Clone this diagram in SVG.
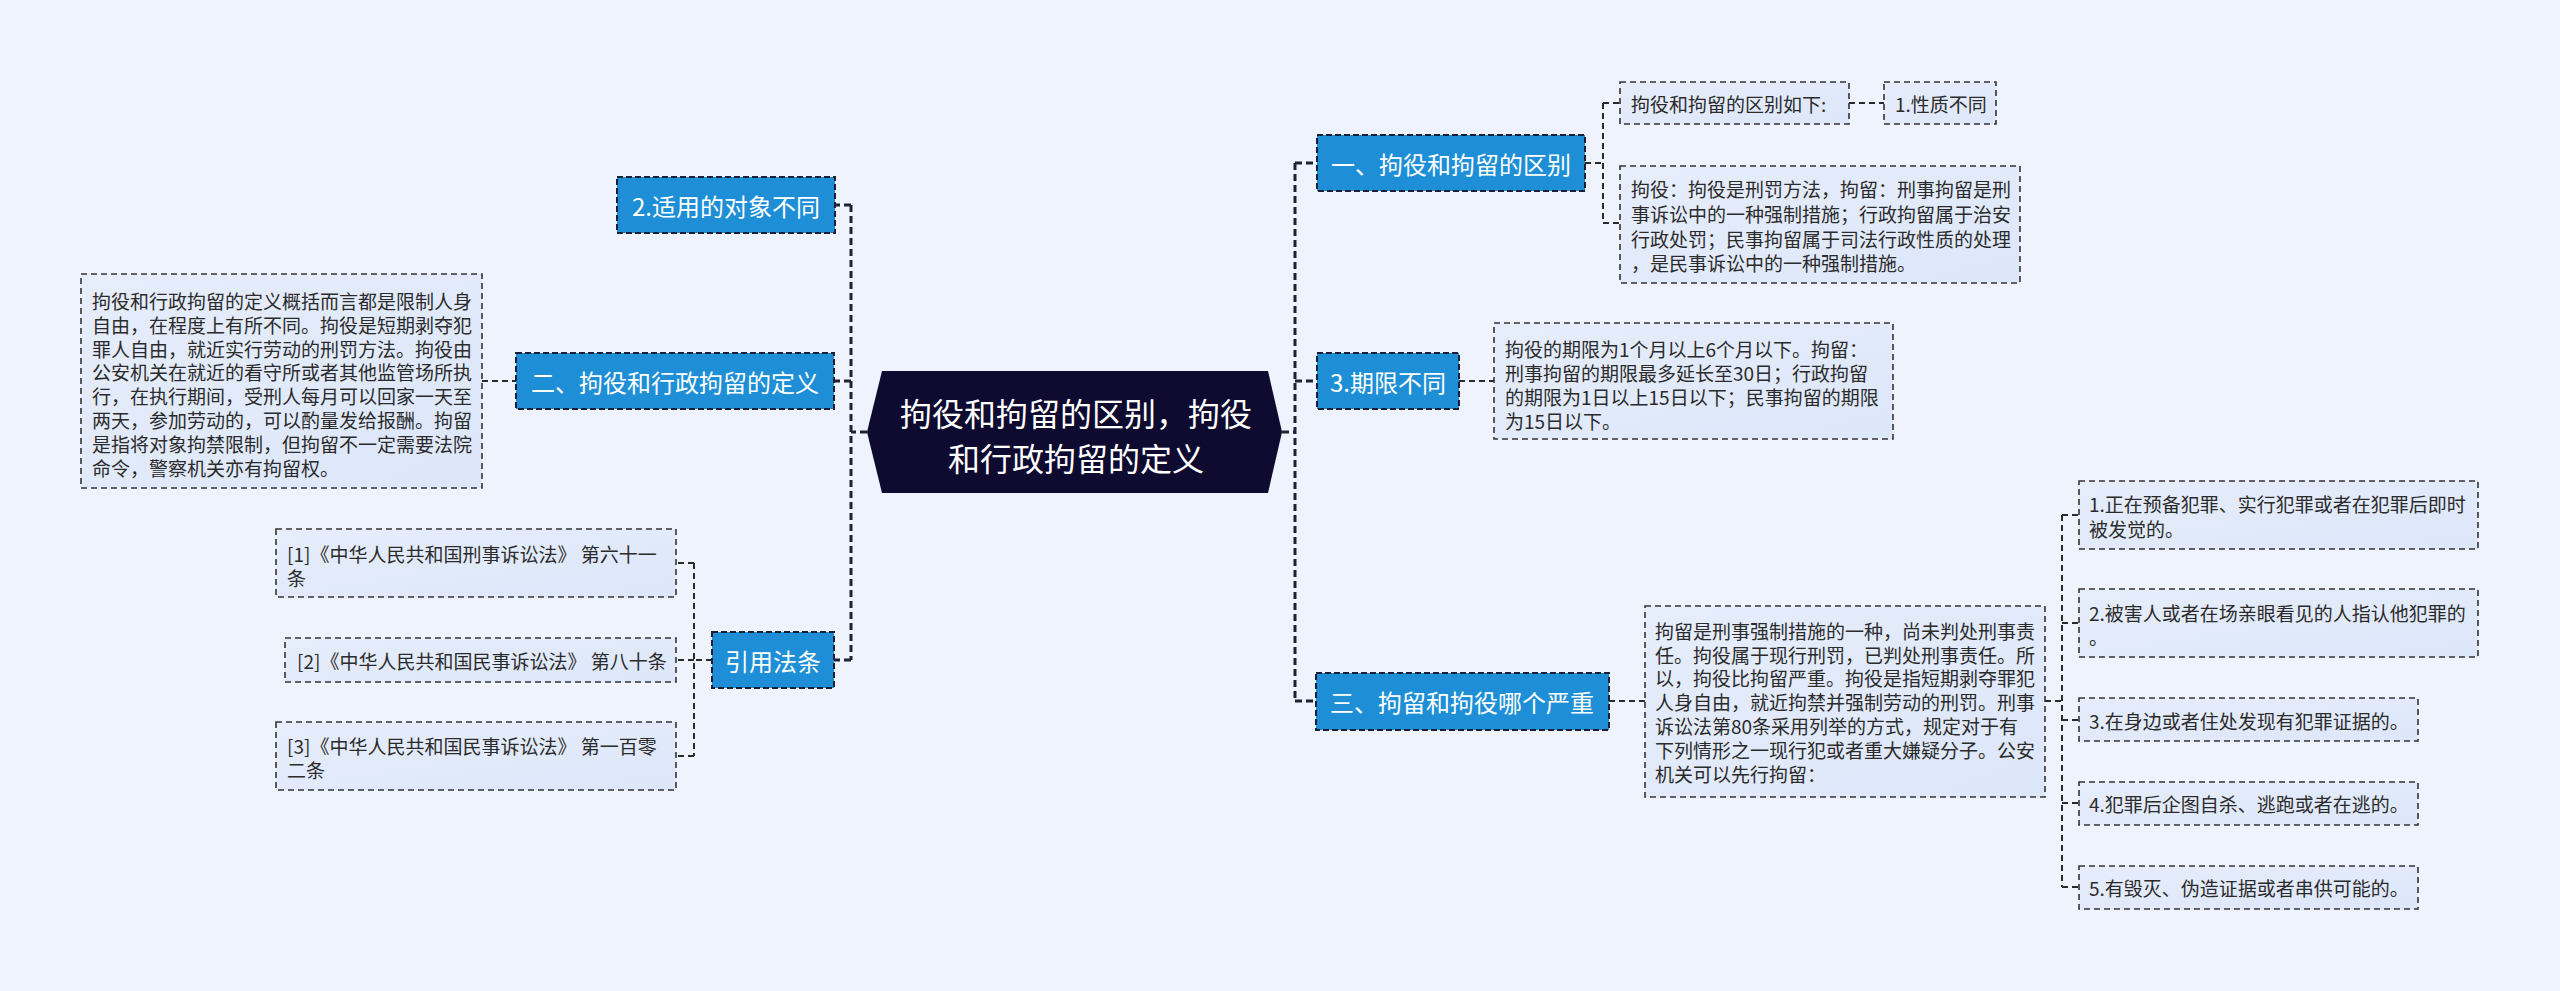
<svg xmlns="http://www.w3.org/2000/svg" width="2560" height="991" viewBox="0 0 2560 991">
<defs>
<linearGradient id="boxg" x1="0" y1="0" x2="1" y2="1">
<stop offset="0" stop-color="#E6EDFB"/>
<stop offset="1" stop-color="#DDE7FA"/>
</linearGradient>
<style>
text{font-family:"Noto Sans CJK SC","Noto Sans",sans-serif;dominant-baseline:central}
.box{fill:url(#boxg);stroke:#333;stroke-width:1.6;stroke-dasharray:6 4}
.blue{fill:#1E8FD6;stroke:#1b2036;stroke-width:2;stroke-dasharray:6 3}
.bt{fill:#fff;font-size:24px;text-anchor:middle}
.t{fill:#2b2b2b;font-size:19px}
.c1{fill:none;stroke:#1f2233;stroke-width:3;stroke-dasharray:7 4}
.c2{fill:none;stroke:#2a2a2a;stroke-width:2;stroke-dasharray:6 4}
</style>
</defs>
<rect width="2560" height="991" fill="#EEF3FD"/>
<g id="connectors">
<path class="c1" d="M1282 432 H1295 M1295 163 V701 M1295 163 H1317 M1295 381 H1317 M1295 701 H1316"/>
<path class="c1" d="M867 432 H851 M851 205 V660 M851 205 H836 M851 381 H834 M851 660 H834"/>
<path class="c2" d="M482 381 H516"/>
<path class="c2" d="M712 660 H694 M694 563 V756 M694 563 H676 M694 660 H676 M694 756 H676"/>
<path class="c2" d="M1585 163 H1603 M1603 103 V223 M1603 103 H1620 M1603 223 H1620 M1849 103 H1884"/>
<path class="c2" d="M1459 381 H1494"/>
<path class="c2" d="M1609 701 H1645 M2045 701 H2062 M2062 515 V887 M2062 515 H2079 M2062 623 H2079 M2062 720 H2079 M2062 803 H2079 M2062 887 H2079"/>
</g>
<g id="center">
<polygon points="867,432 882,371 1268,371 1282,432 1268,493 882,493" fill="#0F0B30"/>
<text x="1076" y="412" fill="#fff" font-size="32" text-anchor="middle">拘役和拘留的区别，拘役</text>
<text x="1076" y="457" fill="#fff" font-size="32" text-anchor="middle">和行政拘留的定义</text>
</g>
<g id="n-shiyong">
<rect class="blue" x="617" y="177" width="218" height="56"/>
<text class="bt" x="726" y="205">2.适用的对象不同</text>
</g>
<g id="n-er">
<rect class="blue" x="516" y="353" width="318" height="56"/>
<text class="bt" x="675" y="381">二、拘役和行政拘留的定义</text>
</g>
<g id="n-er-text">
<rect class="box" x="81" y="274" width="401" height="214"/>
<text class="t" x="92" y="300">拘役和行政拘留的定义概括而言都是限制人身</text>
<text class="t" x="92" y="324">自由，在程度上有所不同。拘役是短期剥夺犯</text>
<text class="t" x="92" y="348">罪人自由，就近实行劳动的刑罚方法。拘役由</text>
<text class="t" x="92" y="371.5">公安机关在就近的看守所或者其他监管场所执</text>
<text class="t" x="92" y="395">行，在执行期间，受刑人每月可以回家一天至</text>
<text class="t" x="92" y="419">两天，参加劳动的，可以酌量发给报酬。拘留</text>
<text class="t" x="92" y="443">是指将对象拘禁限制，但拘留不一定需要法院</text>
<text class="t" x="92" y="467">命令，警察机关亦有拘留权。</text>
</g>
<g id="n-yinyong">
<rect class="blue" x="712" y="632" width="122" height="56"/>
<text class="bt" x="773" y="660">引用法条</text>
</g>
<g id="n-ref1">
<rect class="box" x="276" y="529" width="400" height="68"/>
<text class="t" x="287" y="553">[1]《中华人民共和国刑事诉讼法》 第六十一</text>
<text class="t" x="287" y="577">条</text>
</g>
<g id="n-ref2">
<rect class="box" x="285" y="638" width="391" height="44"/>
<text class="t" x="297" y="660">[2]《中华人民共和国民事诉讼法》 第八十条</text>
</g>
<g id="n-ref3">
<rect class="box" x="276" y="722" width="400" height="68"/>
<text class="t" x="287" y="745">[3]《中华人民共和国民事诉讼法》 第一百零</text>
<text class="t" x="287" y="769">二条</text>
</g>
<g id="n-yi">
<rect class="blue" x="1317" y="135" width="268" height="56"/>
<text class="bt" x="1451" y="163">一、拘役和拘留的区别</text>
</g>
<g id="n-yi-a">
<rect class="box" x="1620" y="82" width="229" height="42"/>
<text class="t" x="1631" y="103">拘役和拘留的区别如下:</text>
</g>
<g id="n-yi-a1">
<rect class="box" x="1884" y="82" width="112" height="42"/>
<text class="t" x="1895" y="103">1.性质不同</text>
</g>
<g id="n-yi-b">
<rect class="box" x="1620" y="166" width="400" height="117"/>
<text class="t" x="1631" y="188">拘役：拘役是刑罚方法，拘留：刑事拘留是刑</text>
<text class="t" x="1631" y="213">事诉讼中的一种强制措施；行政拘留属于治安</text>
<text class="t" x="1631" y="238">行政处罚；民事拘留属于司法行政性质的处理</text>
<text class="t" x="1631" y="262">，是民事诉讼中的一种强制措施。</text>
</g>
<g id="n-qixian">
<rect class="blue" x="1317" y="353" width="142" height="56"/>
<text class="bt" x="1388" y="381">3.期限不同</text>
</g>
<g id="n-qixian-text">
<rect class="box" x="1494" y="323" width="399" height="116"/>
<text class="t" x="1505" y="348">拘役的期限为1个月以上6个月以下。拘留：</text>
<text class="t" x="1505" y="372">刑事拘留的期限最多延长至30日；行政拘留</text>
<text class="t" x="1505" y="396">的期限为1日以上15日以下；民事拘留的期限</text>
<text class="t" x="1505" y="420">为15日以下。</text>
</g>
<g id="n-san">
<rect class="blue" x="1316" y="673" width="293" height="57"/>
<text class="bt" x="1462" y="701">三、拘留和拘役哪个严重</text>
</g>
<g id="n-san-text">
<rect class="box" x="1645" y="606" width="400" height="191"/>
<text class="t" x="1655" y="630">拘留是刑事强制措施的一种，尚未判处刑事责</text>
<text class="t" x="1655" y="654">任。拘役属于现行刑罚，已判处刑事责任。所</text>
<text class="t" x="1655" y="677.5">以，拘役比拘留严重。拘役是指短期剥夺罪犯</text>
<text class="t" x="1655" y="701">人身自由，就近拘禁并强制劳动的刑罚。刑事</text>
<text class="t" x="1655" y="725.5">诉讼法第80条采用列举的方式，规定对于有</text>
<text class="t" x="1655" y="749">下列情形之一现行犯或者重大嫌疑分子。公安</text>
<text class="t" x="1655" y="773">机关可以先行拘留：</text>
</g>
<g id="n-c1">
<rect class="box" x="2079" y="481" width="399" height="68"/>
<text class="t" x="2089" y="503">1.正在预备犯罪、实行犯罪或者在犯罪后即时</text>
<text class="t" x="2089" y="528">被发觉的。</text>
</g>
<g id="n-c2">
<rect class="box" x="2079" y="589" width="399" height="68"/>
<text class="t" x="2089" y="612">2.被害人或者在场亲眼看见的人指认他犯罪的</text>
<text class="t" x="2089" y="636">。</text>
</g>
<g id="n-c3">
<rect class="box" x="2079" y="698" width="339" height="43"/>
<text class="t" x="2089" y="720">3.在身边或者住处发现有犯罪证据的。</text>
</g>
<g id="n-c4">
<rect class="box" x="2079" y="782" width="339" height="43"/>
<text class="t" x="2089" y="803">4.犯罪后企图自杀、逃跑或者在逃的。</text>
</g>
<g id="n-c5">
<rect class="box" x="2079" y="866" width="339" height="43"/>
<text class="t" x="2089" y="887">5.有毁灭、伪造证据或者串供可能的。</text>
</g>
</svg>
